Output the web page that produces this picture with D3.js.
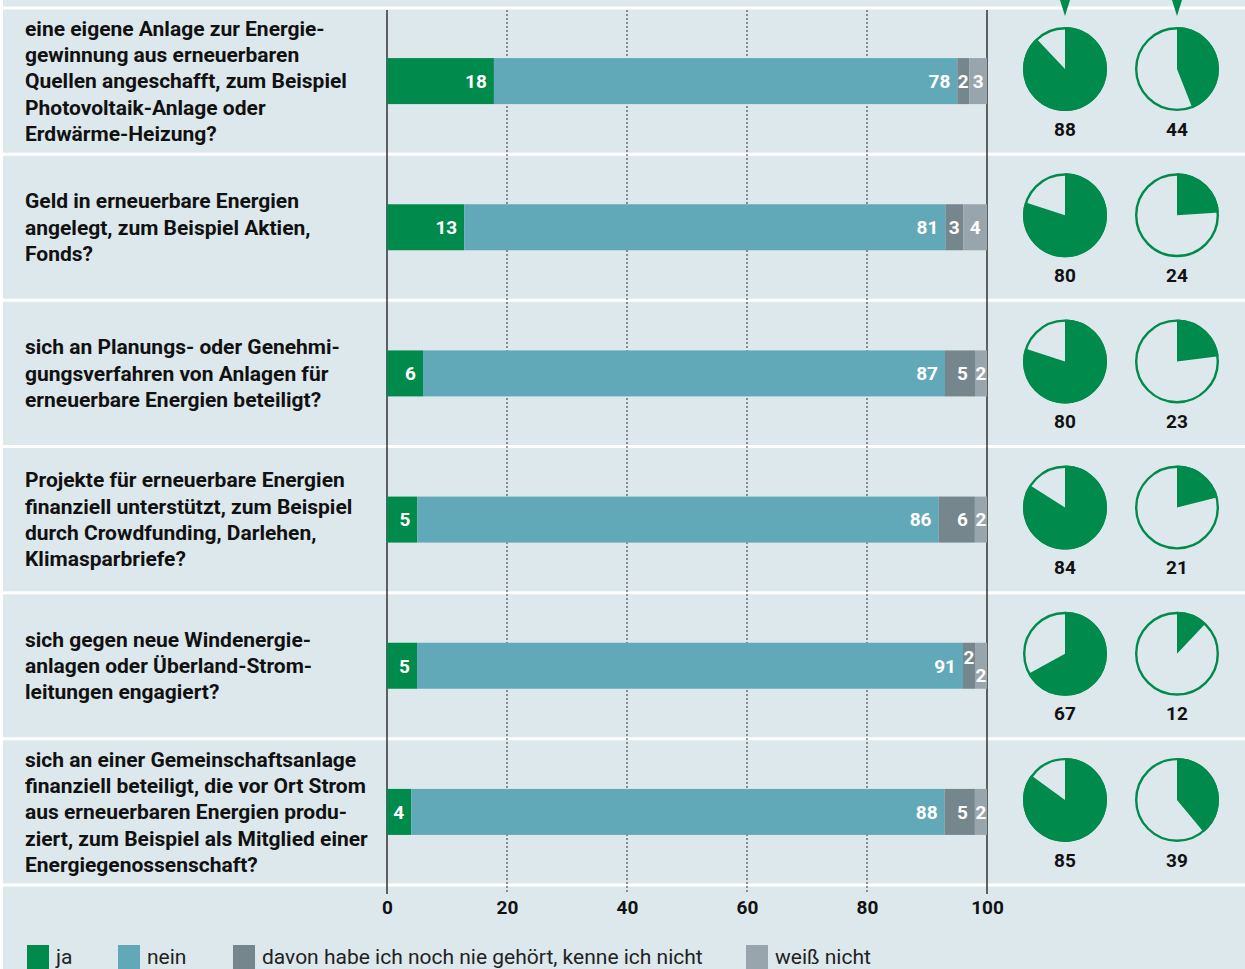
<!DOCTYPE html>
<html lang="de">
<head>
<meta charset="UTF-8">
<title>Erneuerbare Energien – Beteiligung</title>
<style>
  body { margin: 0; background: #fff; }
  svg { display: block; }
  .frage { font-family: Roboto, "Noto Sans", sans-serif; font-weight: bold; font-size: 21px; fill: #111; }
  .wert { font-family: Roboto, "Noto Sans", sans-serif; font-weight: bold; font-size: 19px; fill: #fff; }
  .tick text { font-family: Roboto, "Noto Sans", sans-serif; font-weight: bold; font-size: 19px; fill: #111; }
  .pie-label { font-family: Roboto, "Noto Sans", sans-serif; font-weight: bold; font-size: 19px; fill: #111; }
  .legend text { font-family: Roboto, "Noto Sans", sans-serif; font-size: 21px; fill: #222; }
</style>
</head>
<body>
<div id="chart"></div>
<script src="https://cdn.jsdelivr.net/npm/d3@7"></script>
<script>
// Fragen (mit Zeilenumbruechen wie im Original)
var fragen = [
  ["eine eigene Anlage zur Energie-", "gewinnung aus erneuerbaren", "Quellen angeschafft, zum Beispiel", "Photovoltaik-Anlage oder", "Erdwärme-Heizung?"],
  ["Geld in erneuerbare Energien", "angelegt, zum Beispiel Aktien,", "Fonds?"],
  ["sich an Planungs- oder Genehmi-", "gungsverfahren von Anlagen für", "erneuerbare Energien beteiligt?"],
  ["Projekte für erneuerbare Energien", "finanziell unterstützt, zum Beispiel", "durch Crowdfunding, Darlehen,", "Klimasparbriefe?"],
  ["sich gegen neue Windenergie-", "anlagen oder Überland-Strom-", "leitungen engagiert?"],
  ["sich an einer Gemeinschaftsanlage", "finanziell beteiligt, die vor Ort Strom", "aus erneuerbaren Energien produ-", "ziert, zum Beispiel als Mitglied einer", "Energiegenossenschaft?"]
];
var ja         = [18, 13, 6, 5, 5, 4];
var nein       = [78, 81, 87, 86, 91, 88];
var nieGehoert = [2, 3, 5, 6, 2, 5];
var weissNicht = [3, 4, 2, 2, 2, 2];
var kreisA     = [88, 80, 80, 84, 67, 85];
var kreisB     = [44, 24, 23, 21, 12, 39];

var kategorien = ["ja", "nein", "davon habe ich noch nie gehört, kenne ich nicht", "weiß nicht"];
var farben = ["#008a4b", "#61a9b8", "#76868d", "#99a5ac"];
var ticks = [0, 20, 40, 60, 80, 100];

var width = 1245, height = 969;
var bg = "#dce8ec";

var svg = d3.select("#chart").append("svg")
  .attr("width", width)
  .attr("height", height);

svg.append("rect")
  .attr("x", 3).attr("y", 0)
  .attr("width", width - 3).attr("height", height)
  .attr("fill", bg);

var x = d3.scaleLinear().domain([0, 100]).range([387, 987]);
var y = d3.scaleBand().domain(d3.range(fragen.length)).range([8, 885]);
var barH = 46;

// Trennlinien
svg.append("g").selectAll("line")
  .data(d3.range(fragen.length + 1))
  .enter().append("line")
  .attr("x1", 3).attr("x2", width)
  .attr("y1", function (i) { return i < fragen.length ? y(i) : y.range()[1]; })
  .attr("y2", function (i) { return i < fragen.length ? y(i) : y.range()[1]; })
  .attr("stroke", "#fff")
  .attr("stroke-width", 3);

// Gitterlinien
svg.append("g").selectAll("line")
  .data(ticks)
  .enter().append("line")
  .attr("x1", function (d) { return x(d); })
  .attr("x2", function (d) { return x(d); })
  .attr("y1", 10)
  .attr("y2", 894)
  .attr("stroke", "#333")
  .attr("stroke-width", function (d) { return (d === 0 || d === 100) ? 1.5 : 1; })
  .attr("stroke-dasharray", function (d) { return (d === 0 || d === 100) ? null : "2,2"; });

// Fragetexte
var lineH = 26.3;
var fg = svg.append("g");
fragen.forEach(function (zeilen, i) {
  var cy = y(i) + y.bandwidth() / 2;
  var t = fg.append("text").attr("class", "frage");
  zeilen.forEach(function (z, k) {
    t.append("tspan")
      .attr("x", 25)
      .attr("y", cy + (k - (zeilen.length - 1) / 2) * lineH)
      .attr("dy", "0.35em")
      .text(z);
  });
});

// gestapelte Balken (auf 100 normiert)
var reihen = fragen.map(function (f, i) {
  var werte = [ja[i], nein[i], nieGehoert[i], weissNicht[i]];
  var summe = d3.sum(werte);
  var acc = 0;
  return werte.map(function (v, k) {
    var s = { i: i, k: k, v: v, x0: acc * 100 / summe, x1: (acc + v) * 100 / summe };
    acc += v;
    return s;
  });
});

var segs = svg.append("g").selectAll("g")
  .data(reihen)
  .enter().append("g");

segs.selectAll("rect")
  .data(function (d) { return d; })
  .enter().append("rect")
  .attr("x", function (d) { return x(d.x0); })
  .attr("width", function (d) { return x(d.x1) - x(d.x0); })
  .attr("y", function (d) { return y(d.i) + y.bandwidth() / 2 - barH / 2; })
  .attr("height", barH)
  .attr("fill", function (d) { return farben[d.k]; });

segs.selectAll("text")
  .data(function (d) {
    return d.map(function (s, k) {
      var w = x(s.x1) - x(s.x0);
      var prev = d[k - 1], next = d[k + 1];
      var schmal = function (q) { return q && (x(q.x1) - x(q.x0)) < 15; };
      var off = 0;
      if (w < 15 && k >= 2) {
        if (schmal(next)) off = -9;
        else if (schmal(prev) && prev.k >= 2) off = 9;
      }
      return { s: s, w: w, off: off };
    });
  })
  .enter().append("text")
  .attr("class", "wert")
  .attr("x", function (d) { return d.w > 24 ? x(d.s.x1) - 7 : (x(d.s.x0) + x(d.s.x1)) / 2; })
  .attr("text-anchor", function (d) { return d.w > 24 ? "end" : "middle"; })
  .attr("y", function (d) { return y(d.s.i) + y.bandwidth() / 2 + d.off; })
  .attr("dy", "0.36em")
  .text(function (d) { return d.s.v; });

// Achse
var axis = svg.append("g")
  .attr("transform", "translate(0,892)")
  .call(d3.axisBottom(x).tickValues(ticks).tickSize(0).tickPadding(9));
axis.select(".domain").remove();

// Kreisdiagramme
var r = 42;
var kx = [1065, 1177];
var arc = d3.arc().innerRadius(0).outerRadius(r);
var kg = svg.append("g");
fragen.forEach(function (f, i) {
  var cy = y(i) + y.bandwidth() / 2;
  [kreisA[i], kreisB[i]].forEach(function (v, j) {
    var g = kg.append("g").attr("transform", "translate(" + kx[j] + "," + (cy - 12) + ")");
    g.append("circle").attr("r", r - 1.2)
      .attr("fill", "none").attr("stroke", farben[0]).attr("stroke-width", 2.4);
    g.append("path")
      .attr("d", arc({ startAngle: 0, endAngle: 2 * Math.PI * v / 100 }))
      .attr("fill", farben[0]);
    g.append("text").attr("class", "pie-label")
      .attr("y", 60).attr("dy", "0.35em")
      .attr("text-anchor", "middle")
      .text(v);
  });
});

// Pfeile oben
svg.append("g").selectAll("path")
  .data(kx)
  .enter().append("path")
  .attr("d", function (d) { return "M" + (d - 5) + ",0 L" + (d + 5) + ",0 L" + d + ",16 Z"; })
  .attr("fill", farben[0]);

// Legende
var legX = [27, 118, 233, 746];
var leg = svg.append("g").attr("class", "legend");
kategorien.forEach(function (k, i) {
  leg.append("rect")
    .attr("x", legX[i]).attr("y", 945)
    .attr("width", 22).attr("height", 24)
    .attr("fill", farben[i]);
  leg.append("text")
    .attr("x", legX[i] + 29).attr("y", 957)
    .attr("dy", "0.35em")
    .text(k);
});
</script>
</body>
</html>
